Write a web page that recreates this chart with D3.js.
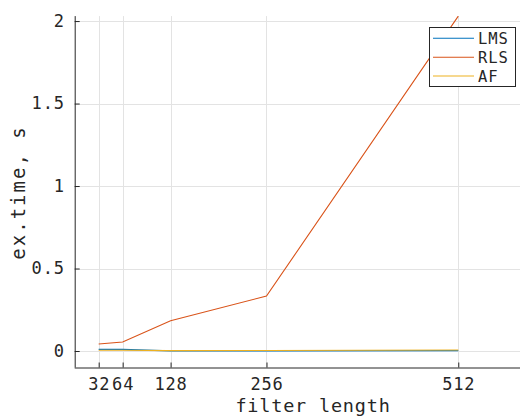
<!DOCTYPE html>
<html>
<head>
<meta charset="utf-8">
<script src="https://cdn.jsdelivr.net/npm/d3@7"></script>
<style>
  html, body { margin: 0; padding: 0; background: #fff; }
  svg { display: block; }
  text { font-family: "DejaVu Sans Mono", monospace; fill: #262626; }
</style>
</head>
<body>
<svg id="chart" width="520" height="416"></svg>
<script>
const filterLengths = [32, 64, 128, 256, 512];
const lmsTime = [0.010, 0.010, 0.001, 0.001, 0.002];
const rlsTime = [0.042, 0.055, 0.184, 0.333, 2.03];
const afTime  = [0.005, 0.005, 0.002, 0.003, 0.006];
const seriesNames = ["LMS", "RLS", "AF"];
const seriesColors = ["#0072BD", "#D95319", "#EDB120"];
const xTickValues = [32, 64, 128, 256, 512];
const yTickValues = [0, 0.5, 1, 1.5, 2];
const yTickLabels = ["0", "0.5", "1", "1.5", "2"];

const svg = d3.select("#chart");
const pLeft = 74.7, pRight = 524.2, pTop = 16.1, pBottom = 367.5;

const x = d3.scaleLinear().domain([0, 600]).range([pLeft, pRight]);
const y = d3.scaleLinear().domain([-0.1, 2.03]).range([pBottom, pTop]);

// grid
const grid = svg.append("g");
grid.selectAll("line.gx").data(xTickValues).join("line")
  .attr("x1", d => Math.round(x(d)) + 0.5).attr("x2", d => Math.round(x(d)) + 0.5)
  .attr("y1", pTop).attr("y2", pBottom)
  .attr("stroke", "#e3e3e3").attr("stroke-width", 1);
grid.selectAll("line.gy").data(yTickValues).join("line")
  .attr("y1", d => Math.round(y(d)) + 0.5).attr("y2", d => Math.round(y(d)) + 0.5)
  .attr("x1", pLeft).attr("x2", pRight)
  .attr("stroke", "#e3e3e3").attr("stroke-width", 1);

// lines
const allSeries = [lmsTime, rlsTime, afTime];
svg.append("clipPath").attr("id", "clip").append("rect")
  .attr("x", pLeft).attr("y", pTop).attr("width", pRight - pLeft).attr("height", pBottom - pTop);
const lineGen = d3.line().x((d, i) => x(filterLengths[i])).y(d => y(d));
svg.append("g").attr("clip-path", "url(#clip)")
  .selectAll("path").data(allSeries).join("path")
  .attr("d", d => lineGen(d))
  .attr("fill", "none")
  .attr("stroke", (d, i) => seriesColors[i])
  .attr("stroke-width", 1.1);

// axes
const xAxis = d3.axisBottom(x).tickValues(xTickValues).tickSizeInner(-5).tickSizeOuter(0).tickPadding(10.5);
const gx = svg.append("g").attr("transform", `translate(0,${pBottom})`).call(xAxis);
const yAxis = d3.axisLeft(y).tickValues(yTickValues).tickFormat((d, i) => yTickLabels[i]).tickSizeInner(-5).tickSizeOuter(0).tickPadding(10);
const gy = svg.append("g").attr("transform", `translate(${pLeft},0)`).call(yAxis);
[gx, gy].forEach(g => {
  g.select(".domain").attr("stroke", "#262626");
  g.selectAll(".tick line").attr("stroke", "#262626");
  g.selectAll("text").attr("font-family", "DejaVu Sans Mono, monospace")
    .attr("font-size", 17).attr("fill", "#262626").attr("letter-spacing", 0.8);
});
gx.select(".domain").attr("d", `M${pLeft},0.5H${pRight}`);
gy.select(".domain").attr("d", `M0.5,${pTop}V${pBottom}`);

// axis labels
svg.append("text").attr("x", 313).attr("y", 411.5).attr("text-anchor", "middle")
  .attr("font-size", 18.5).attr("letter-spacing", 0.8).text("filter length");
svg.append("text").attr("transform", `translate(25,192.5) rotate(-90)`).attr("text-anchor", "middle")
  .attr("font-size", 19).attr("letter-spacing", 2).text("ex.time, s");

// legend
const lg = svg.append("g");
lg.append("rect").attr("x", 429.5).attr("y", 27.5).attr("width", 86).attr("height", 59)
  .attr("fill", "#fff").attr("stroke", "#262626").attr("stroke-width", 1);
const rowsY = [38.3, 57.3, 76];
seriesNames.forEach((name, i) => {
  lg.append("line").attr("x1", 433).attr("x2", 474).attr("y1", rowsY[i]).attr("y2", rowsY[i])
    .attr("stroke", seriesColors[i]).attr("stroke-width", 1.1);
  lg.append("text").attr("x", 478).attr("y", rowsY[i]).attr("dy", "0.36em")
    .attr("font-size", 15.5).attr("letter-spacing", 0.9).text(name);
});
</script>
</body>
</html>
